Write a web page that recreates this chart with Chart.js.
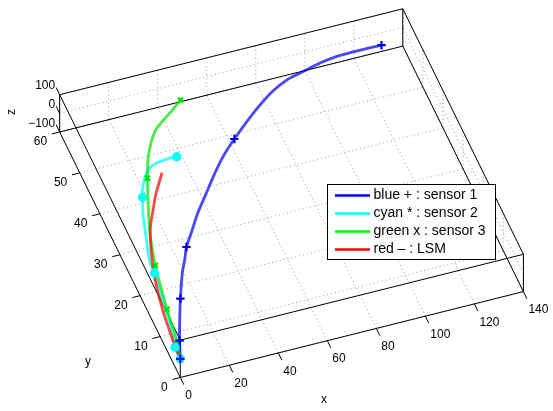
<!DOCTYPE html>
<html>
<head>
<meta charset="utf-8">
<title>sensor tracks</title>
<script src="https://cdn.jsdelivr.net/npm/chart.js"></script>
<style>
  html, body { margin: 0; padding: 0; background: #fff; }
  canvas { display: block; }
</style>
</head>
<body>
<canvas id="chart" width="553" height="411"></canvas>
<script>
const xTicks = [0, 20, 40, 60, 80, 100, 120, 140]
const yTicks = [0, 10, 20, 30, 40, 50, 60]
const zTicks = [-100, 0, 100]

const seriesLabels = ['blue + : sensor 1', 'cyan * : sensor 2', 'green x : sensor 3', 'red \u2013 : LSM']

// tracks as [x, y], everything lies on z = 0
const sensor1 = [[0, 0], [3, 4], [7, 8.8], [10.8, 13.1], [16.1, 18.6], [19.6, 21.6], [22.2, 24.0], [26.6, 26.9],
  [32.4, 30.8], [38.8, 34.5], [45.3, 38.3], [52.3, 42.0], [58.9, 44.9], [70.4, 49.5], [80.9, 53.1], [89.1, 55],
  [96.4, 55.9], [103.8, 56.8], [110.9, 57.3], [117.6, 57.4], [124.2, 57.4], [129.1, 57.3]]
const sensor1Marks = [[0, 0], [3, 4], [10.8, 13.1], [22.2, 24.0], [58.9, 44.9], [129.1, 57.3]]

const sensor2 = [[0, 0], [0.1, 2.8], [1.35, 4.7], [3.45, 11.5], [5.6, 19], [6.0, 20.1], [6.3, 22.9], [10.3, 30.1],
  [11.9, 33], [15.1, 37.2], [16.3, 38.7], [19.5, 41.4], [23, 43.2], [26.2, 43.9], [30.4, 44.2], [34.8, 44.2]]
const sensor2Marks = [[0, 0], [0.1, 2.8], [6.0, 20.1], [15.1, 37.2], [34.8, 44.2]]

const sensor3 = [[0, 0], [1.9, 3.75], [4.0, 11.5], [7.6, 21.7], [10.3, 27], [12, 29.9], [16.6, 36.3], [20.3, 41.1],
  [24.1, 45.4], [28.2, 48.8], [32.2, 51.3], [36.9, 53], [41.6, 54.6], [46.3, 56.3]]
const sensor3Marks = [[0, 0], [1.9, 3.75], [4.0, 11.5], [7.6, 21.7], [20.3, 41.1], [46.3, 56.3]]

const lsm = [[0, 0.5], [0.7, 4.7], [2.3, 11.6], [5.2, 19.1], [8.3, 24.5], [12.2, 29.8], [16.7, 33.9], [20.7, 37.3], [26.6, 41.5]]

// orthographic view, pixels per data unit
const view = { ox: 178, oy: 383, xx: 2.509, xy: -0.633, yx: -2.058, yy: -4.223, zy: -0.1925 }
const W = 553, H = 411
const font = '"Liberation Sans", Arial, Helvetica, sans-serif'

function proj(x, y, z) {
  return {
    x: view.ox + x * view.xx + y * view.yx,
    y: view.oy + x * view.xy + y * view.yy + (z - zTicks[0]) * view.zy
  }
}
const onPlane = (arr) => arr.map((p) => proj(p[0], p[1], 0))

const x0 = xTicks[0], x1 = xTicks[xTicks.length - 1]
const y0 = yTicks[0], y1 = yTicks[yTicks.length - 1]
const z0 = zTicks[0], z1 = zTicks[zTicks.length - 1]

const frame = {
  id: 'frame',
  beforeDatasetsDraw(chart) {
    const c = chart.ctx
    const sx = chart.scales.x, sy = chart.scales.y
    const P = (x, y, z) => { const p = proj(x, y, z); return [sx.getPixelForValue(p.x), sy.getPixelForValue(p.y)] }
    const seg = (a, b) => { c.beginPath(); c.moveTo(a[0], a[1]); c.lineTo(b[0], b[1]); c.stroke() }
    c.save()
    // dotted grid on floor and two back walls
    c.strokeStyle = '#9a9a9a'
    c.lineWidth = 1
    c.setLineDash([1, 3])
    xTicks.forEach((x) => { seg(P(x, y0, z0), P(x, y1, z0)); seg(P(x, y1, z0), P(x, y1, z1)) })
    yTicks.forEach((y) => { seg(P(x0, y, z0), P(x1, y, z0)); seg(P(x1, y, z0), P(x1, y, z1)) })
    zTicks.forEach((z) => { seg(P(x0, y1, z), P(x1, y1, z)); seg(P(x1, y0, z), P(x1, y1, z)) })
    // box
    c.setLineDash([])
    c.strokeStyle = '#000'
    const xs = [x0, x1], ys = [y0, y1], zs = [z0, z1]
    ys.forEach((y) => zs.forEach((z) => seg(P(x0, y, z), P(x1, y, z))))
    xs.forEach((x) => zs.forEach((z) => seg(P(x, y0, z), P(x, y1, z))))
    xs.forEach((x) => ys.forEach((y) => seg(P(x, y, z0), P(x, y, z1))))
    // ticks and labels
    const tl = 8
    c.fillStyle = '#000'
    c.font = '12px ' + font
    c.textBaseline = 'middle'
    c.textAlign = 'left'
    xTicks.forEach((x) => {
      const a = P(x, y0, z0)
      seg(a, [a[0] + 0.438 * tl, a[1] + 0.899 * tl])
      c.fillText(String(x), a[0] + 5, a[1] + 18.5)
    })
    c.textAlign = 'right'
    yTicks.forEach((y) => {
      const a = P(x0, y, z0)
      seg(a, [a[0] - 0.969 * tl, a[1] + 0.245 * tl])
      c.fillText(String(y), a[0] - 12.5, a[1] + 10)
    })
    zTicks.forEach((z) => {
      const a = P(x0, y1, z)
      seg(a, [a[0] - 0.438 * tl, a[1] - 0.899 * tl])
      c.fillText(String(z).replace('-', '\u2212'), a[0] - 4.5, a[1] - 8.5)
    })
    c.textAlign = 'center'
    c.fillText('x', 324, 400)
    c.fillText('y', 88, 362)
    c.translate(11.5, 112)
    c.rotate(-Math.PI / 2)
    c.fillText('z', 0, 0)
    c.restore()
  }
}

const legendBox = {
  id: 'legendBox',
  afterDraw(chart) {
    const c = chart.ctx
    const colors = ['#0000ff', '#00ffff', '#00ff00', '#ff0000']
    c.save()
    c.fillStyle = '#fff'
    c.fillRect(327.5, 184.5, 168, 75)
    c.strokeStyle = '#000'
    c.lineWidth = 1
    c.strokeRect(327.5, 184.5, 168, 75)
    c.font = '14px ' + font
    c.textBaseline = 'middle'
    c.textAlign = 'left'
    seriesLabels.forEach((label, i) => {
      const yy = 195.5 + i * 18
      c.strokeStyle = colors[i]
      c.lineWidth = 2.5
      c.beginPath(); c.moveTo(335, yy); c.lineTo(370, yy); c.stroke()
      c.fillStyle = '#000'
      c.fillText(label, 373.5, yy)
    })
    c.restore()
  }
}

const track = (data, color, order) => ({
  data: onPlane(data), showLine: true, borderColor: color, borderWidth: 2.8,
  pointRadius: 0, tension: 0.3, clip: false, order
})
const marks = (data, color, style, r) => ({
  data: onPlane(data), showLine: false, pointStyle: style, pointRadius: r,
  borderColor: color, backgroundColor: color, borderWidth: 2.2, clip: false, order: 0
})

new Chart(document.getElementById('chart'), {
  type: 'scatter',
  data: {
    datasets: [
      track(sensor1, 'rgba(0,0,255,0.72)', 4),
      track(sensor2, 'rgba(0,255,255,0.75)', 3),
      track(sensor3, 'rgba(0,230,0,0.72)', 2),
      track(lsm, 'rgba(255,0,0,0.72)', 1),
      marks(sensor1Marks, '#0000ff', 'cross', 4.2),
      marks(sensor2Marks, '#00ffff', 'circle', 3.5),
      marks(sensor3Marks, '#00e000', 'crossRot', 3.5)
    ]
  },
  options: {
    responsive: false,
    animation: false,
    devicePixelRatio: 1,
    layout: { padding: 0 },
    scales: {
      x: { type: 'linear', display: false, min: 0, max: W },
      y: { type: 'linear', display: false, min: 0, max: H, reverse: true }
    },
    plugins: { legend: { display: false }, tooltip: { enabled: false } }
  },
  plugins: [frame, legendBox]
})
</script>
</body>
</html>
